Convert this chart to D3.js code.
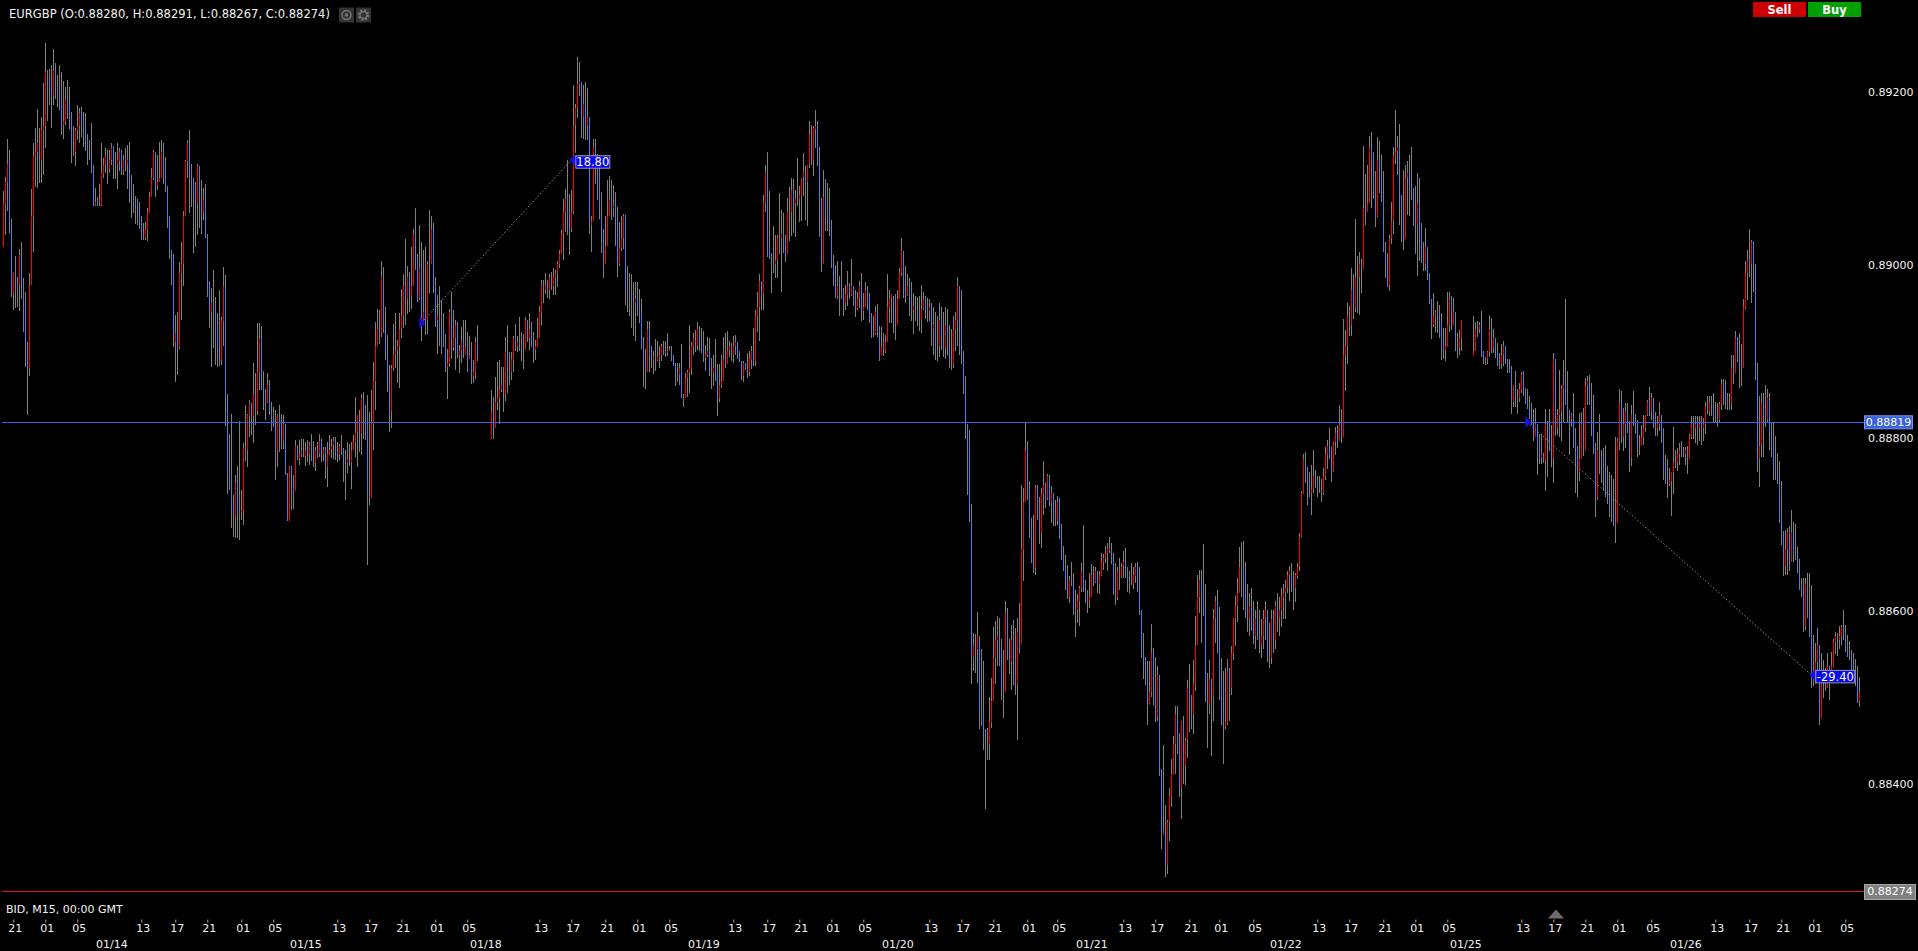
<!DOCTYPE html>
<html><head><meta charset="utf-8">
<script src="https://cdn.jsdelivr.net/npm/d3@7"></script>
<style>
html,body{margin:0;padding:0;background:#000;overflow:hidden}
svg{display:block}
text{font-family:"DejaVu Sans",sans-serif;fill:#f2f2f2}
</style></head><body>
<script>
// Prices are in points above 0.88000 (e.g. 1200 = 0.89200). null = market closed.
const _=null;
const highs=[
1084,1101,1145,1132,1052,991,1009,982,1017,1026,984,968,910,990,1087,1140,1157,1179,1157,1170,1209,1255,1224,1226,1230,1249,1232,1219,1230,1222,1211,1205,1213,1205,1176,1159,1157,1184,1180,1182,1176,1174,1143,1143,1163,1099,1088,1077,1093,1140,1122,1134,1132,1132,1140,1136,1130,1140,1134,1132,1126,1134,1138,1141,1103,1093,1079,1075,1072,1055,1047,1048,1065,1083,1111,1132,1130,1126,1141,1143,1140,1124,1083,1047,1016,1012,941,945,1002,1026,1061,1120,1143,1155,1116,1093,1095,1116,1113,1097,1088,1093,1034,980,972,993,962,943,970,939,997,987,841,804,827,733,756,766,819,739,793,837,827,843,839,885,874,932,932,928,876,856,874,866,841,835,831,827,837,827,826,814,758,766,766,756,797,791,797,798,798,794,796,
794,804,795,789,794,804,798,789,789,794,802,798,800,800,794,792,802,787,785,794,792,794,802,846,825,831,850,852,837,848,829,854,887,933,948,947,1004,997,950,918,883,883,931,943,912,943,971,989,1029,998,991,1020,1041,1065,1012,1045,1025,1016,1020,1004,1062,1056,1047,985,964,975,958,943,919,902,948,968,947,935,933,906,927,935,935,921,917,910,889,916,929,
_,_,_,_,_,_,
854,846,869,887,889,881,881,916,929,898,898,917,931,917,939,921,919,939,931,943,933,921,912,937,952,981,981,990,981,989,991,995,993,1003,1016,1039,1075,1087,1120,1081,1086,1207,1185,1239,1234,1201,1207,1210,1203,1170,1056,1145,1145,1127,1091,1083,1041,1056,1097,1102,1097,1091,1083,1066,
1049,1055,1058,1057,998,990,988,979,979,979,971,960,916,902,934,934,905,899,913,911,905,908,911,911,920,905,905,895,882,886,886,908,847,874,878,930,910,920,924,933,928,926,922,906,916,914,891,895,913,884,884,895,916,920,922,911,909,917,918,909,899,888,888,886,897,899,905,926,947,968,988,980,1080,1115,1130,1084,1013,1044,1034,1034,1082,1063,1059,1034,1076,1089,1099,1098,1086,1123,1090,1099,1128,1113,1115,1165,1161,1159,1178,1165,1130,1076,1109,1098,1094,1088,1051,1010,999,1003,986,1003,972,976,992,978,1006,974,965,968,980,990,967,979,975,967,943,940,951,954,928,927,920,918,988,970,961,963,963,970,995,1030,1005,998,988,984,979,967,963,962,963,976,968,963,961,960,
955,950,945,940,955,950,945,950,948,930,925,940,945,985,975,970,900,
870,815,808,722,573,572,598,567,555,541,462,464,500,521,580,587,593,591,567,554,610,602,567,583,589,579,591,608,745,741,817,795,749,706,710,745,744,731,741,772,747,757,756,743,735,727,732,730,700,674,664,652,639,655,643,623,618,628,654,698,635,623,643,653,651,650,643,645,666,665,674,678,684,678,666,654,650,660,654,668,672,646,645,654,650,654,655,650,596,573,546,541,541,584,556,546,535,510,416,444,375,357,394,428,454,489,489,458,472,477,452,519,537,502,542,593,641,646,646,676,630,527,542,517,601,616,623,604,544,529,533,543,533,558,591,616,637,673,
679,680,655,630,620,625,610,600,610,600,590,600,610,595,585,600,600,610,620,615,625,630,635,
645,651,654,645,643,654,689,737,780,783,760,760,768,785,762,755,755,751,764,789,797,810,789,795,812,814,837,832,936,924,955,951,995,988,1052,1009,1014,1006,1136,1104,1115,1148,1153,1121,1107,1147,1142,1126,1107,1026,1013,1033,1072,1135,1178,1148,1162,1080,1109,1115,1119,1126,1135,1088,1090,1105,1099,1047,1026,1042,1020,980,957,967,947,957,953,943,926,926,968,968,963,961,940,920,924,934,
_,_,_,_,_,
940,933,934,933,946,899,893,899,941,938,925,913,909,897,907,911,899,889,890,882,860,876,855,863,875,876,857,855,847,839,832,834,810,803,803,782,832,818,832,
814,897,889,832,878,860,889,959,876,831,828,851,810,779,828,829,833,868,870,872,862,849,793,806,827,785,787,791,766,760,756,752,800,799,855,853,833,839,839,818,837,853,827,820,802,814,826,826,843,858,851,829,829,824,841,816,793,779,775,764,760,812,785,787,793,795,789,789,790,804,824,824,824,824,824,824,822,841,847,847,847,851,841,839,841,867,867,866,851,851,895,895,922,916,920,908,960,1003,1016,1041,1028,1027,985,886,847,851,851,860,856,851,816,816,801,781,772,749,691,693,695,697,716,702,700,673,659,637,637,637,643,643,629,571,562,579,529,550,542,533,550,533,552,567,575,573,581,583,600,583,571,564,554,550,543,535,522];
const lows=[
1019,1034,1062,1036,962,947,949,951,945,960,922,881,826,871,978,1014,1089,1088,1093,1094,1103,1134,1165,1184,1157,1184,1190,1182,1178,1149,1144,1161,1168,1156,1117,1124,1113,1143,1140,1147,1136,1130,1114,1120,1105,1067,1067,1067,1067,1067,1099,1105,1093,1105,1114,1098,1099,1087,1107,1103,1103,1107,1087,1070,1053,1059,1047,1045,1041,1027,1027,1027,1027,1063,1078,1097,1078,1086,1098,1103,1093,1083,1041,1005,976,905,863,872,901,936,974,1059,1099,1059,1066,1013,1020,1034,1041,1035,1051,1030,962,926,881,903,883,881,882,883,906,812,735,739,695,685,683,683,681,704,698,772,766,800,802,793,814,826,854,854,831,820,839,826,808,812,750,766,783,787,787,756,702,702,715,717,752,774,768,777,777,766,770,
767,773,765,761,775,777,771,773,752,742,779,776,775,773,771,773,779,748,727,758,767,740,787,777,765,783,779,798,796,652,721,781,785,831,908,908,916,921,889,852,806,810,877,879,862,856,914,927,929,943,945,948,993,993,956,958,910,937,918,920,966,1004,966,927,896,906,896,908,875,844,881,891,900,877,891,874,885,891,904,875,894,862,862,867,887,
_,_,_,_,_,_,
798,798,839,831,815,852,829,842,850,860,866,875,900,898,900,887,879,910,910,900,904,885,889,904,917,929,954,966,960,960,970,964,964,973,995,1014,1004,1037,1033,1010,1037,1058,1128,1168,1195,1145,1145,1143,1143,1035,1014,1056,1093,1074,1052,1012,984,1016,1022,1062,1051,1054,1020,985,
998,1015,1018,953,945,940,926,917,911,940,932,902,858,856,886,875,880,872,876,888,880,888,895,893,893,899,888,882,859,864,861,845,834,846,847,851,872,895,899,901,899,897,886,876,893,870,855,859,864,824,840,857,868,880,884,893,888,886,895,891,886,866,864,878,868,870,878,882,882,922,911,947,947,1061,1009,1005,967,990,984,984,1011,968,1013,1003,1013,1026,1032,1036,1032,1067,1048,1049,1078,1051,1045,1111,1115,1101,1134,1113,1032,990,1003,1038,1038,1032,995,974,961,959,940,959,940,947,951,959,963,951,938,947,949,934,936,957,947,932,914,916,917,916,888,897,893,897,926,932,932,920,912,932,966,986,961,955,963,940,934,920,934,928,922,921,947,936,933,935,
905,895,890,888,892,900,893,890,895,880,878,880,900,905,895,885,850,
797,733,702,514,529,527,516,463,466,438,370,427,427,463,500,514,535,535,496,475,506,542,527,508,514,502,450,550,562,633,727,727,683,654,643,641,704,677,672,710,718,727,720,700,697,697,698,683,658,645,623,613,608,627,594,569,585,582,620,620,608,596,602,621,628,631,620,618,639,646,654,646,666,654,618,606,612,623,637,637,637,620,620,629,625,631,620,594,544,520,514,467,490,500,490,471,471,408,323,342,292,294,333,373,410,410,433,384,359,398,398,429,458,463,456,506,562,596,562,593,494,440,479,431,471,562,550,496,467,422,463,467,472,501,542,558,586,621,
615,600,590,575,570,575,560,555,565,550,545,555,565,540,533,537,550,555,575,570,580,590,590,
620,610,620,600,610,635,645,684,735,747,722,731,710,735,741,731,735,724,733,751,764,778,749,759,780,787,795,793,811,853,884,916,916,936,945,943,941,967,1001,1045,1063,1076,1065,1075,1042,1055,1082,1072,1013,984,974,968,1024,1034,1115,1103,1045,1026,1017,1057,1057,1055,1074,1044,1011,986,1003,1001,992,992,982,953,913,928,922,920,915,889,890,888,920,922,924,932,899,891,895,899,
_,_,_,_,_,
894,906,915,920,893,884,884,884,893,897,897,891,882,878,878,882,884,874,874,826,834,834,826,841,851,847,839,832,820,814,795,805,756,768,768,770,737,753,783,
766,747,801,802,801,795,816,837,816,779,812,787,735,731,749,785,777,791,837,837,801,781,708,727,758,747,737,731,722,708,702,698,677,716,785,793,783,787,804,759,767,812,804,777,779,792,791,806,824,824,820,810,801,801,808,793,750,745,730,743,709,735,764,760,768,777,777,768,758,777,797,797,793,791,795,791,795,804,826,824,824,818,818,811,818,831,837,833,831,831,831,862,878,887,856,860,887,947,958,985,955,968,866,760,742,777,777,812,818,785,777,750,750,745,700,675,639,641,641,645,656,656,658,643,623,615,575,577,591,569,510,512,517,527,467,496,498,506,517,496,533,535,550,546,554,560,565,552,546,542,529,531,512,492,487];
const closes=[
1070,1095,1116,1051,966,991,985,975,1010,980,960,910,880,975,1055,1125,1130,1140,1120,1155,1160,1222,1215,1205,1195,1224,1205,1200,1190,1160,1165,1190,1185,1170,1135,1130,1155,1160,1175,1165,1162,1150,1130,1130,1115,1068,1072,1069,1068,1105,1115,1125,1110,1120,1135,1115,1115,1120,1130,1108,1120,1115,1120,1090,1075,1070,1068,1065,1050,1038,1030,1040,1060,1078,1100,1130,1090,1095,1100,1130,1110,1090,1055,1015,1010,910,920,905,990,1000,1055,1119,1140,1110,1100,1085,1070,1113,1080,1060,1075,1035,980,945,955,950,930,905,890,935,975,850,760,755,720,708,748,715,712,714,787,785,825,838,825,850,830,875,915,855,850,840,860,830,822,815,785,825,815,795,815,756,703,765,750,738,790,775,780,784,778,785,780,
790,780,770,785,780,795,780,785,765,780,785,790,795,785,780,790,785,775,770,775,770,785,795,805,825,805,845,830,825,735,730,815,865,905,925,920,985,930,895,860,830,880,895,900,905,925,940,975,960,985,965,975,1035,1005,960,995,930,945,935,1000,1000,1040,975,935,940,925,915,905,880,885,945,905,915,930,895,900,910,895,905,890,895,870,875,910,895,
_,_,_,_,_,_,
830,810,840,845,855,860,850,900,880,875,890,915,905,910,910,910,900,935,915,925,910,900,905,915,945,975,970,975,970,985,975,985,990,1000,1012,1035,1060,1075,1065,1040,1060,1160,1180,1208,1210,1170,1185,1160,1170,1045,1050,1135,1110,1120,1060,1040,1000,1020,1055,1075,1065,1067,1060,1000,
1018,1030,1055,975,965,965,960,955,960,955,945,905,890,875,925,905,890,892,890,893,895,905,900,898,900,902,895,885,875,872,880,850,845,868,875,880,905,915,905,925,905,905,892,895,900,875,875,880,875,845,860,865,890,885,900,905,895,905,910,895,888,870,885,880,875,890,900,888,940,950,980,965,1070,1105,1020,1010,1005,1000,1005,1030,1030,1035,1030,1012,1060,1060,1085,1070,1075,1075,1080,1100,1105,1095,1115,1150,1120,1157,1160,1135,1075,1000,1077,1060,1060,1045,1000,985,965,975,970,965,955,965,975,965,975,970,950,960,975,945,950,970,965,938,925,920,945,925,895,905,900,910,950,960,965,965,930,960,990,1015,975,965,975,970,945,950,945,945,935,948,960,948,945,950,
925,930,910,905,935,915,905,930,910,890,885,925,935,975,930,895,860,
815,800,705,545,558,555,570,485,485,460,450,445,470,495,545,565,570,555,510,505,595,550,540,565,545,515,575,560,670,725,785,740,695,660,650,740,720,690,735,745,730,755,725,735,710,705,725,690,660,650,635,615,635,630,600,600,610,625,645,625,620,610,615,640,632,645,630,640,655,660,665,670,672,665,625,615,645,640,650,655,650,635,630,630,640,650,635,600,550,545,530,490,505,550,510,475,525,415,340,345,305,355,385,410,445,480,450,395,470,420,450,510,500,480,515,560,615,635,620,605,500,490,520,500,590,610,565,520,475,465,470,530,510,550,590,605,620,650,
650,640,610,590,605,585,570,590,575,560,570,590,600,550,545,590,565,605,590,600,615,620,625,
640,645,630,625,640,650,685,735,775,765,750,735,740,755,750,745,740,735,755,780,790,775,760,795,805,795,815,800,895,905,940,930,970,950,985,985,1000,995,1065,1060,1070,1135,1130,1095,1055,1120,1105,1080,1015,1000,975,1030,1050,1125,1130,1135,1080,1060,1030,1100,1105,1090,1085,1060,1045,1070,1040,1005,1000,1020,990,960,930,940,945,945,935,915,900,905,930,960,930,945,910,905,915,935,
_,_,_,_,_,
900,925,925,930,900,890,890,898,925,905,915,900,890,885,895,905,890,880,878,840,860,850,845,855,872,855,845,835,825,820,800,815,790,775,780,772,815,810,800,
775,890,810,825,830,855,860,840,830,820,825,800,790,760,775,815,785,860,865,840,815,785,730,785,780,780,760,745,730,725,715,710,700,795,840,800,815,830,810,775,825,820,815,790,790,800,810,825,840,830,845,815,810,815,825,810,770,755,745,750,760,770,770,780,785,785,780,785,775,800,815,810,815,810,815,810,815,835,830,840,835,830,825,820,838,860,855,845,840,840,880,875,915,895,885,880,950,990,1005,1000,1025,1000,870,775,790,840,830,820,845,800,790,770,760,750,705,685,650,670,690,655,690,665,665,650,625,620,580,630,600,580,530,515,540,560,475,525,510,510,535,520,535,563,570,565,570,580,575,560,550,545,535,530,520,495,505];

const priceTicks=[1200,1000,800,600,400];
const timeTickBars=[5,21,37,69,86,102,119,135,167,183,199,216,232,268,284,301,317,333,365,382,398,414,430,463,479,495,512,527,560,576,593,608,625,657,673,690,706,722,759,775,791,807,824,856,873,889,905,921];
const timeTickLabels=["21","01","05","13","17","21","01","05","13","17","21","01","05","13","17","21","01","05","13","17","21","01","05","13","17","21","01","05","13","17","21","01","05","13","17","21","01","05","13","17","21","01","05","13","17","21","01","05"];
const dateBars=[54,151,241,350,447,544,641,731,841];
const dateLabels=["01/14","01/15","01/18","01/19","01/20","01/21","01/22","01/25","01/26"];
const measureBars=[[209,284,"18.80"],[762,904,"-29.40"]];
const measurePrices=[[932,1120],[817,525]];

const W=1918,H=951;
const x=d3.scaleLinear().domain([0,927]).range([3.3,1857.3]);
const y=d3.scaleLinear().domain([400,1200]).range([783,91]);
const price=v=>(0.88+v/1e5).toFixed(5);
const svg=d3.select("body").append("svg").attr("width",W).attr("height",H).style("background","#000");

const bars=highs.map((h,i)=>({i,h,l:lows[i],c:closes[i]}));
let prev=null;
bars.forEach(b=>{ if(b.h===null){prev=null;return;} b.o=prev===null?b.l:prev; prev=b.c; });
const live=bars.filter(b=>b.h!==null);
const px=b=>Math.round(x(b.i));
const g=svg.append("g").attr("shape-rendering","crispEdges");
g.selectAll("rect.w").data(live).join("rect").attr("class","w")
 .attr("x",px).attr("width",1).attr("y",b=>Math.round(y(b.h))).attr("height",b=>Math.max(1,Math.round(y(b.l)-y(b.h)))).attr("fill","#808080");
g.selectAll("rect.b").data(live.filter(b=>b.o!==b.c)).join("rect").attr("class","b")
 .attr("x",px).attr("width",1).attr("y",b=>Math.round(y(Math.max(b.o,b.c)))).attr("height",b=>Math.max(1,Math.round(Math.abs(y(b.o)-y(b.c)))))
 .attr("fill",b=>b.c>b.o?"#ff0000":"#4a80e6");

// horizontal price lines
svg.append("line").attr("x1",2).attr("x2",1864).attr("y1",y(817)).attr("y2",y(817)).attr("stroke","#3a62dc").attr("stroke-width",1).attr("shape-rendering","crispEdges");
svg.append("line").attr("x1",2).attr("x2",1864).attr("y1",y(274)).attr("y2",y(274)).attr("stroke","#e01010").attr("stroke-width",1).attr("shape-rendering","crispEdges");

// measure tools
measureBars.forEach((m,k)=>{
  const x0=x(m[0]),x1=x(m[1]),y0=y(measurePrices[k][0]),y1=y(measurePrices[k][1]);
  svg.append("line").attr("x1",x0).attr("y1",y0).attr("x2",x1).attr("y2",y1).attr("stroke","#8a8a8a").attr("stroke-width",1).attr("stroke-dasharray","1.5 2");
  svg.append("path").attr("d",`M${x0-2},${y0-6}L${x0+4},${y0}L${x0-2},${y0+6}Z`).attr("fill","#1212e8");
  svg.append("path").attr("d",`M${x1+4},${y1-6}L${x1-2},${y1}L${x1+4},${y1+6}Z`).attr("fill","#1212e8");
  const w=m[2].length>5?39:34;
  svg.append("rect").attr("x",x1+4.5).attr("y",y1-4.5).attr("width",w).attr("height",12.5).attr("fill","#0808f0").attr("stroke","#9a9aa8").attr("stroke-width",1);
  svg.append("text").attr("x",x1+4.5+w/2).attr("y",y1+2.5).attr("text-anchor","middle").attr("dominant-baseline","middle").attr("font-size",11.5).style("fill","#fff").text(m[2]);
});

// price axis
const ay=svg.append("g").attr("transform","translate(1866,1)").call(d3.axisRight(y).tickValues(priceTicks).tickFormat(price).tickSize(0).tickPadding(2));
ay.select(".domain").remove();
ay.selectAll("text").attr("font-size",11).style("font-family",'"DejaVu Sans",sans-serif').style("fill","#f2f2f2");

// price badges
function badge(txt,fill,stroke,yc,x0,w,h){
  svg.append("rect").attr("x",x0).attr("y",yc-h/2).attr("width",w).attr("height",h).attr("fill",fill).attr("stroke",stroke).attr("stroke-width",1);
  svg.append("text").attr("x",x0+w/2).attr("y",yc+0.5).attr("text-anchor","middle").attr("dominant-baseline","middle").attr("font-size",11).style("fill","#fff").text(txt);
}
badge("0.88819","#3a62dc","#7f97e8",y(817),1864.5,48,13);
badge("0.88274","#808080","#a8a8a8",y(274),1864.5,51,15);

// time axes
const ax=svg.append("g").attr("transform","translate(0,919.5)").call(d3.axisBottom(x).tickValues(timeTickBars).tickFormat(d=>timeTickLabels[timeTickBars.indexOf(d)]).tickSize(3).tickPadding(2));
ax.select(".domain").remove();
ax.selectAll("line").attr("stroke","#aaa");
ax.selectAll("text").attr("font-size",11).attr("dx",1.5).style("font-family",'"DejaVu Sans",sans-serif').style("fill","#f2f2f2");
const ad=svg.append("g").attr("transform","translate(0,938)").call(d3.axisBottom(x).tickValues(dateBars).tickFormat(d=>dateLabels[dateBars.indexOf(d)]).tickSize(0).tickPadding(2));
ad.select(".domain").remove();
ad.selectAll("text").attr("font-size",11).style("font-family",'"DejaVu Sans",sans-serif').style("fill","#f2f2f2");

svg.append("text").attr("x",6).attr("y",913).attr("font-size",11).text("BID, M15, 00:00 GMT");
svg.append("path").attr("d","M1556,909.5L1564,918.5L1548,918.5Z").attr("fill","#6a6a6a");

// header
svg.append("text").attr("x",9).attr("y",18).attr("font-size",11.55).text("EURGBP (O:0.88280, H:0.88291, L:0.88267, C:0.88274)");
[339,356].forEach((bx,k)=>{
  svg.append("rect").attr("x",bx).attr("y",7.5).attr("width",15).attr("height",15).attr("fill","#333");
  if(k===0){
    svg.append("circle").attr("cx",bx+7.5).attr("cy",15).attr("r",4.5).attr("fill","none").attr("stroke","#777").attr("stroke-width",1.4);
    svg.append("circle").attr("cx",bx+7.5).attr("cy",15).attr("r",1.7).attr("fill","#777");
  } else {
    svg.append("circle").attr("cx",bx+7.5).attr("cy",15).attr("r",4.6).attr("fill","none").attr("stroke","#777").attr("stroke-width",2.4).attr("stroke-dasharray","2 1.6");
    svg.append("circle").attr("cx",bx+7.5).attr("cy",15).attr("r",3.4).attr("fill","none").attr("stroke","#777").attr("stroke-width",1.2);
  }
});

// trade buttons
[["Sell",1753,"#cc0000"],["Buy",1808,"#00a000"]].forEach(b=>{
  svg.append("rect").attr("x",b[1]).attr("y",2).attr("width",53).attr("height",15).attr("fill",b[2]);
  svg.append("text").attr("x",b[1]+26.5).attr("y",14).attr("text-anchor","middle").attr("font-size",11.5).attr("font-weight","bold").style("fill","#fff").text(b[0]);
});
</script>
</body></html>
